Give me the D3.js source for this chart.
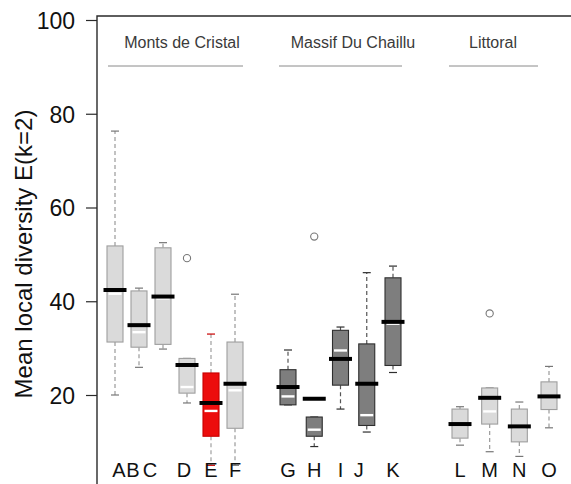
<!DOCTYPE html>
<html>
<head>
<meta charset="utf-8">
<script src="https://cdn.jsdelivr.net/npm/d3@7"></script>
<style>
  html, body { margin: 0; padding: 0; background: #fff; }
  svg { display: block; font-family: "Liberation Sans", Arial, sans-serif; }
</style>
</head>
<body>
<svg id="chart" width="571" height="484"></svg>
<script>
// Sites and the region each one belongs to
const categories = ["A","B","C","D","E","F","G","H","I","J","K","L","M","N","O"];
const regionOf   = ["Monts de Cristal","Monts de Cristal","Monts de Cristal","Monts de Cristal","Monts de Cristal","Monts de Cristal",
                    "Massif Du Chaillu","Massif Du Chaillu","Massif Du Chaillu","Massif Du Chaillu","Massif Du Chaillu",
                    "Littoral","Littoral","Littoral","Littoral"];
const regions = ["Monts de Cristal","Massif Du Chaillu","Littoral"];

// Box statistics per site: whisker ends, quartiles, median and mean
const whiskerLow  = [20.0, 25.9, 29.8, 18.3,  5.0,  5.0, 17.9,  9.0, 17.0, 12.1, 24.8,  9.3,  7.9,  6.9, 13.0];
const q1          = [31.3, 30.2, 30.8, 20.4, 11.2, 12.9, 17.9, 11.2, 22.1, 13.5, 26.3, 10.8, 13.8, 10.0, 16.9];
const median      = [41.6, 33.4, 40.6, 21.7, 16.6, 21.0, 19.7, 12.6, 29.5, 15.7, 35.2, 13.6, 16.5, 13.1, 19.6];
const q3          = [51.8, 42.2, 51.4, 27.8, 24.7, 31.3, 25.4, 15.3, 33.8, 30.9, 45.0, 17.0, 21.5, 17.0, 22.8];
const whiskerHigh = [76.3, 42.8, 52.5, 27.8, 33.0, 41.5, 29.6, 15.3, 34.5, 46.1, 47.5, 17.5, 21.5, 18.5, 26.1];
const mean        = [42.4, 34.9, 41.0, 26.4, 18.3, 22.4, 21.7, 19.2, 27.7, 22.4, 35.6, 13.8, 19.4, 13.3, 19.7];

// Outlying observations
const outlierSite  = ["D", "H", "M"];
const outlierValue = [49.2, 53.8, 37.4];

// Highlighted site
const highlightSite = "E";

const yTicks = [20, 40, 60, 80, 100];
const yTitle = "Mean local diversity E(k=2)";

const svg = d3.select("#chart");

// Frame of the plotting region (extends past the right and bottom edges)
const frame = { left: 97, top: 16 };

const y = d3.scaleLinear().domain([0, 100]).range([488.75, 20]);

// One point scale per region so each group keeps its own spacing
const regionRange = {
  "Monts de Cristal": [115, 235],
  "Massif Du Chaillu": [288, 393],
  "Littoral": [460, 549]
};
const regionScale = {};
regions.forEach(r => {
  regionScale[r] = d3.scalePoint()
    .domain(categories.filter((c, i) => regionOf[i] === r))
    .range(regionRange[r]);
});
const x = c => regionScale[regionOf[categories.indexOf(c)]](c);

const data = categories.map((c, i) => ({
  cat: c, region: regionOf[i],
  lo: whiskerLow[i], q1: q1[i], med: median[i], q3: q3[i], hi: whiskerHigh[i], mean: mean[i]
}));

function styleFor(d) {
  if (d.cat === highlightSite) return { fill: "#ec0d0d", stroke: "#c80000", whisker: "#a0a0a0" };
  if (d.region === "Massif Du Chaillu") return { fill: "#7e7e7e", stroke: "#2e2e2e", whisker: "#555" };
  return { fill: "#dadada", stroke: "#9e9e9e", whisker: "#9a9a9a" };
}

// Frame lines
svg.append("path")
  .attr("d", `M${frame.left},600 V${frame.top} H700`)
  .attr("fill", "none").attr("stroke", "#2a2a2a").attr("stroke-width", 1.4);

// Y axis
const yAxis = d3.axisLeft(y).tickValues(yTicks).tickSize(11).tickPadding(11).tickFormat(d3.format("d"));
const gy = svg.append("g").attr("transform", `translate(${frame.left},0)`).call(yAxis);
gy.select(".domain").remove();
gy.selectAll(".tick line").attr("stroke", "#2a2a2a").attr("stroke-width", 1.2);
gy.selectAll(".tick text").attr("font-size", 23).attr("fill", "#111")
  .attr("font-family", "'Liberation Sans', Arial, sans-serif").attr("dy", "0.36em");

// Y title
svg.append("text")
  .attr("transform", `translate(32,${254}) rotate(-90)`)
  .attr("text-anchor", "middle")
  .attr("font-size", 24).attr("fill", "#111")
  .text(yTitle);

// Region headers with rule lines underneath
const headerLayout = {
  "Monts de Cristal": { tx: 182, x0: 108, x1: 243 },
  "Massif Du Chaillu": { tx: 353, x0: 279, x1: 402 },
  "Littoral": { tx: 493, x0: 449, x1: 538 }
};
regions.forEach(r => {
  const h = headerLayout[r];
  svg.append("text").attr("x", h.tx).attr("y", 48).attr("text-anchor", "middle")
    .attr("font-size", 16).attr("fill", "#3a3a3a").text(r);
  svg.append("line").attr("x1", h.x0).attr("x2", h.x1).attr("y1", 66).attr("y2", 66)
    .attr("stroke", "#8a8a8a").attr("stroke-width", 1);
});

const boxW = 16, capW = 8, meanW = 23;
const boxes = svg.append("g");

data.forEach(d => {
  const s = styleFor(d);
  const cx = x(d.cat);
  const g = boxes.append("g");
  // whiskers
  [[d.q3, d.hi], [d.q1, d.lo]].forEach(([a, b]) => {
    if (Math.abs(a - b) > 0.01) {
      g.append("line").attr("x1", cx).attr("x2", cx).attr("y1", y(a)).attr("y2", y(b))
        .attr("stroke", s.whisker).attr("stroke-width", 1.2).attr("stroke-dasharray", "4,3");
    }
    g.append("line").attr("x1", cx - capW / 2).attr("x2", cx + capW / 2).attr("y1", y(b)).attr("y2", y(b))
      .attr("stroke", s.stroke === "#9e9e9e" ? "#777" : s.stroke).attr("stroke-width", 1.2);
  });
  // box
  g.append("rect").attr("x", cx - boxW / 2).attr("width", boxW)
    .attr("y", y(d.q3)).attr("height", y(d.q1) - y(d.q3))
    .attr("fill", s.fill).attr("stroke", s.stroke).attr("stroke-width", 1.1);
  // median (white)
  g.append("line").attr("x1", cx - boxW / 2 + 1.5).attr("x2", cx + boxW / 2 - 1.5)
    .attr("y1", y(d.med)).attr("y2", y(d.med))
    .attr("stroke", "#ffffff").attr("stroke-width", 2.4);
  // mean (black bar)
  g.append("line").attr("x1", cx - meanW / 2).attr("x2", cx + meanW / 2)
    .attr("y1", y(d.mean)).attr("y2", y(d.mean))
    .attr("stroke", "#000").attr("stroke-width", 4);
});

// Outliers
outlierSite.forEach((c, i) => {
  svg.append("circle").attr("cx", x(c)).attr("cy", y(outlierValue[i])).attr("r", 3.6)
    .attr("fill", "none").attr("stroke", "#777").attr("stroke-width", 1.1);
});

// Site labels along the bottom (A, B, C are nudged to fit)
const labelNudge = { A: 4, B: -6, C: -13, D: -3, J: -8 };
svg.append("g").selectAll("text").data(categories).join("text")
  .attr("x", c => x(c) + (labelNudge[c] || 0))
  .attr("y", 477)
  .attr("text-anchor", "middle")
  .attr("font-size", 20).attr("fill", "#111")
  .text(c => c);
</script>
</body>
</html>
